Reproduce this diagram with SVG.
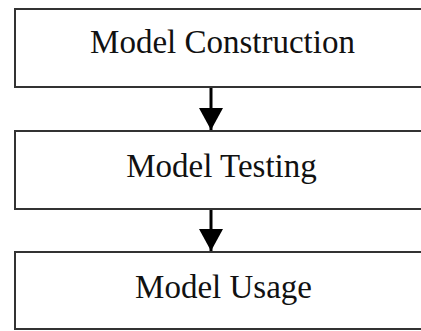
<svg xmlns="http://www.w3.org/2000/svg" width="421" height="331" viewBox="0 0 421 331">
<style>
.box{fill:#fff;stroke:#333;stroke-width:2}
.lbl{font-family:"Liberation Serif","Times New Roman",serif;font-size:33px;fill:#111;text-anchor:middle}
.conn{stroke:#000;stroke-width:3;fill:none}
</style>
<defs>
<marker id="ah" markerUnits="userSpaceOnUse" markerWidth="22" markerHeight="24" refX="22" refY="12" orient="auto">
<path d="M0,0 L22,12 L0,24 Z" fill="#000"/>
</marker>
</defs>
<rect width="421" height="331" fill="#fff"/>
<g id="n1"><rect class="box" x="15" y="9" width="420" height="78"/><text class="lbl" x="222.5" y="53">Model Construction</text></g>
<g id="n2"><rect class="box" x="15" y="131" width="420" height="78"/><text class="lbl" x="221.5" y="177">Model Testing</text></g>
<g id="n3"><rect class="box" x="15" y="252" width="420" height="77"/><text class="lbl" x="223.5" y="298">Model Usage</text></g>
<g id="connectors">
<line class="conn" x1="211" y1="88" x2="211" y2="130" marker-end="url(#ah)"/>
<line class="conn" x1="211" y1="210" x2="211" y2="251" marker-end="url(#ah)"/>
</g>
</svg>
